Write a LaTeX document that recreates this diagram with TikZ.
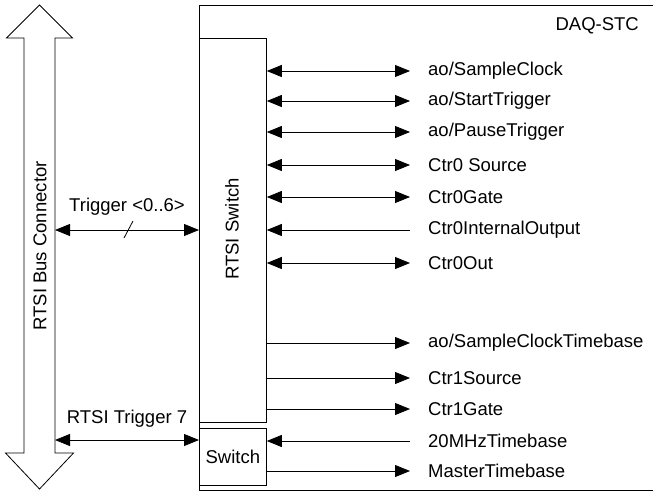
\documentclass[tikz,border=0pt]{standalone}
\usepackage{fontspec}
\setmainfont{Liberation Sans}
\usetikzlibrary{arrows.meta}
\begin{document}
\begin{tikzpicture}[x=1pt,y=-1pt,
  fs/.style={font=\fontsize{18.5}{20}\selectfont},
  lbl/.style={fs, anchor=west, inner sep=0pt},
  box/.style={draw, line width=0.8pt},
  tip/.style={line width=0.8pt},
  bi/.style={tip,{Triangle[length=15pt,width=12pt]}-{Triangle[length=15pt,width=12pt]}},
  outa/.style={tip,-{Triangle[length=15pt,width=12pt]}},
  ina/.style={tip,{Triangle[length=15pt,width=12pt]}-}]
\useasboundingbox (0,0) rectangle (653,493);
% DAQ-STC outer box
\draw[box] (660,5) -- (199,5) -- (199,490) -- (660,490);
\node[lbl, anchor=east] (daq) at (639,26) {DAQ-STC};
% RTSI switch and small switch
\node[box, minimum width=67pt, minimum height=384pt, inner sep=0pt, anchor=north west] (rsw) at (199,38) {};
\node[rotate=90, fs, inner sep=0pt] (rswt) at (232,229) {RTSI Switch};
\node[box, minimum width=67pt, minimum height=57pt, inner sep=0pt, anchor=north west, fs] (sw) at (199,428) {Switch};
% big bus arrow
\draw[line width=0.8pt, fill=white] (39.5,5) -- (72.5,38) -- (55,38) -- (55,453) -- (73.5,453) -- (39.5,489) -- (5.5,453) -- (24,453) -- (24,38) -- (6.5,38) -- cycle;
\coordinate (busR) at (55,230);
\coordinate (busR2) at (55,440);
\node[rotate=90, fs, inner sep=0pt] (bust) at (40,246) {RTSI Bus Connector};
% trigger arrows
\draw[bi] (busR) -- (rsw.west |- busR) node[midway, above=14pt, fs, inner sep=0pt] (trl) {Trigger <0..6>};
\coordinate (sl1) at (124,238);
\coordinate (sl2) at (133,221);
\draw[line width=0.8pt] (sl1) -- (sl2);
\draw[bi] (busR2) -- (sw.west |- busR2) node[midway, above=12pt, fs, inner sep=0pt] (t7) {RTSI Trigger 7};
% signal labels
\foreach \nm/\y/\t in {a/71/ao\slash SampleClock, b/101/ao\slash StartTrigger, c/132/ao\slash PauseTrigger, d/165/Ctr0 Source, e/197/Ctr0Gate, f/230/Ctr0InternalOutput, g/263/Ctr0Out, h/343/ao\slash SampleClockTimebase, i/378/Ctr1Source, j/409/Ctr1Gate, k/441/20MHzTimebase, l/471/MasterTimebase}{
  \node[lbl] (\nm) at (428,\y) {\t};
  \coordinate (\nm e) at (410,\y);
}
\foreach \nm in {a,b,c,d,e,g}{\draw[bi] (rsw.east |- \nm e) -- (\nm e);}
\draw[ina] (rsw.east |- fe) -- (fe);
\foreach \nm in {h,i,j}{\draw[outa] (rsw.east |- \nm e) -- (\nm e);}
\draw[ina] (sw.east |- ke) -- (ke);
\draw[outa] (sw.east |- le) -- (le);
\end{tikzpicture}
\end{document}
